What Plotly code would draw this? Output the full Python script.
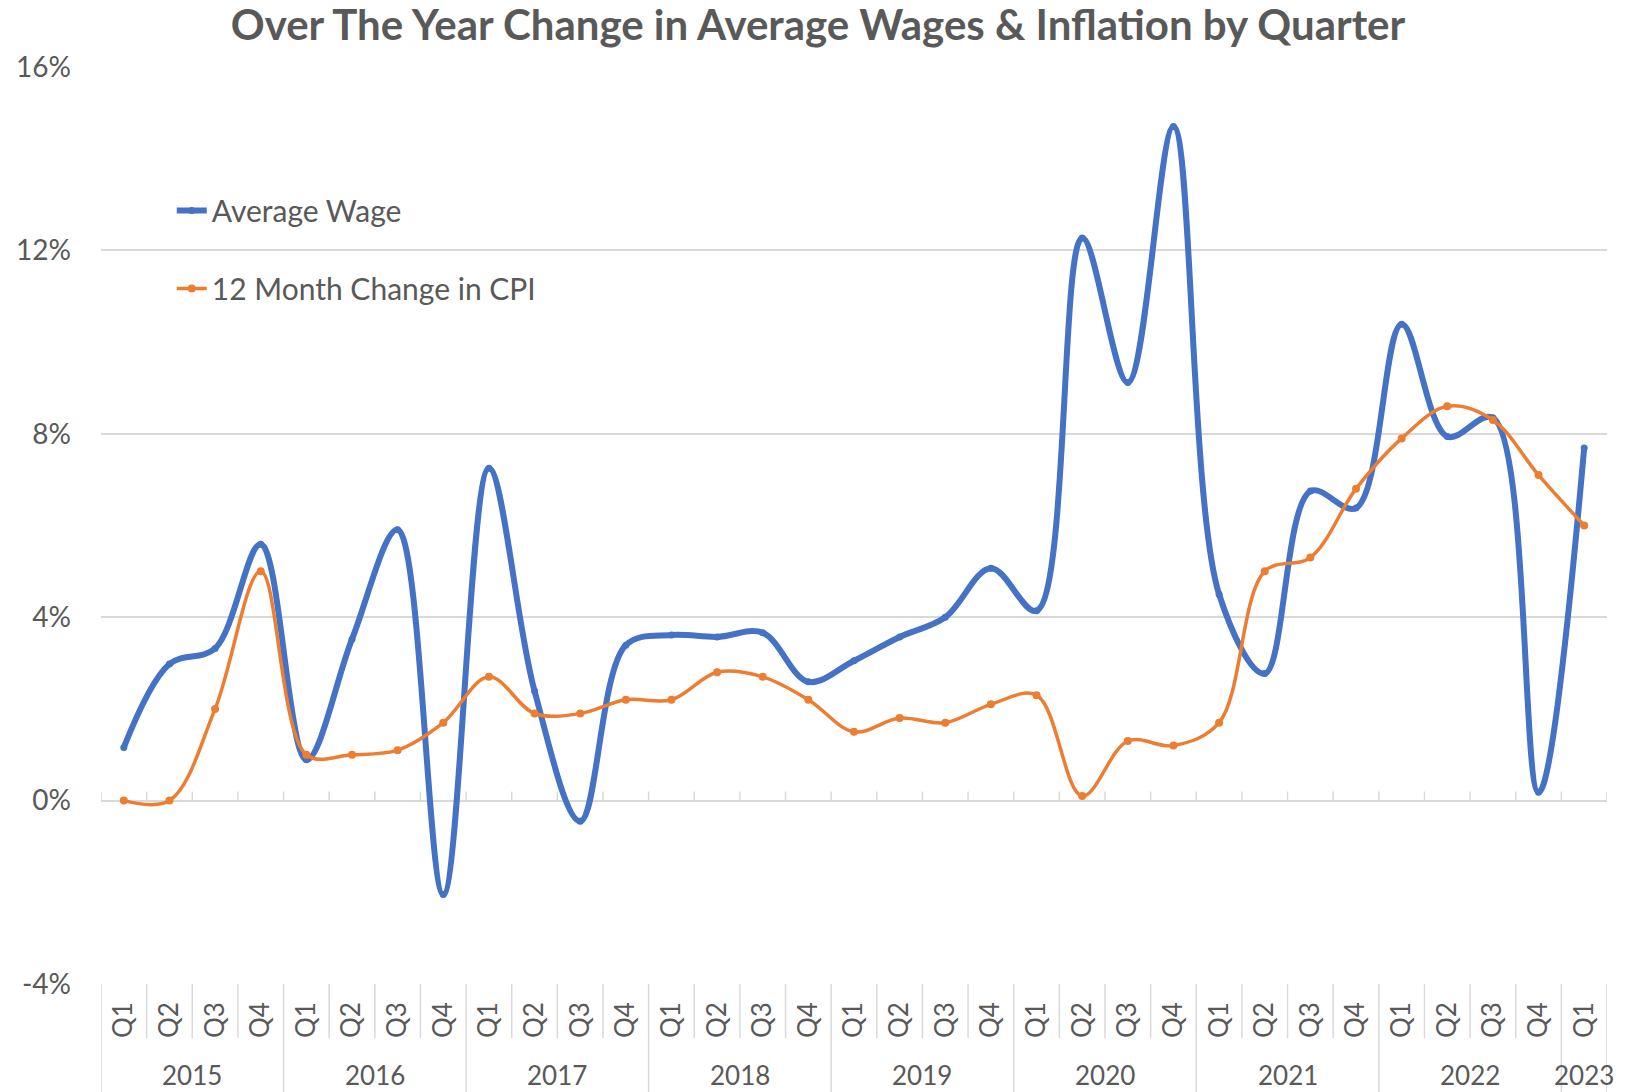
"""
Over-the-year change in average wages vs CPI, quarterly line chart
"""

import plotly.graph_objects as go

# data
years = ["2015", "2016", "2017", "2018", "2019", "2020", "2021", "2022", "2023"]
quarters_per_year = [4, 4, 4, 4, 4, 4, 4, 4, 1]
quarter_labels = ["Q1", "Q2", "Q3", "Q4"]

average_wage = [1.16, 2.98, 3.32, 5.59,
                0.89, 3.52, 5.91, -2.05,
                7.25, 2.39, -0.45, 3.39,
                3.61, 3.57, 3.66, 2.59,
                3.05, 3.57, 4.00, 5.07,
                4.14, 12.27, 9.12, 14.70,
                4.50, 2.77, 6.75, 6.38,
                10.39, 7.94, 8.35, 0.18,
                7.69]

cpi_change = [0.0, 0.0, 2.0, 5.0,
              1.0, 1.0, 1.1, 1.7,
              2.7, 1.9, 1.9, 2.2,
              2.2, 2.8, 2.7, 2.2,
              1.5, 1.8, 1.7, 2.1,
              2.3, 0.1, 1.3, 1.2,
              1.7, 5.0, 5.3, 6.8,
              7.9, 8.6, 8.3, 7.1,
              6.0]

y_ticks = [-4, 0, 4, 8, 12, 16]

# colours / fonts
BLUE = "#4472C4"
ORANGE = "#ED7D31"
TEXT = "#595959"
GRID = "#D9D9D9"
FONT = "Lato"

# flatten categories
ticktext = []
year_centers = []
year_bounds = [-0.5]
pos = 0
for yr, n in zip(years, quarters_per_year):
    ticktext += quarter_labels[:n]
    year_centers.append(pos + (n - 1) / 2)
    pos += n
    year_bounds.append(pos - 0.5)
xs = list(range(len(ticktext)))
all_bounds = [i - 0.5 for i in range(len(ticktext) + 1)]

fig = go.Figure()

fig.add_trace(go.Scatter(
    x=xs, y=average_wage, name="Average Wage",
    mode="lines+markers", line=dict(color=BLUE, width=6, shape="spline", smoothing=1.0),
    marker=dict(size=7, color=BLUE), legendgroup="a"
))
fig.add_trace(go.Scatter(
    x=xs, y=cpi_change, name="12 Month Change in CPI",
    mode="lines+markers", line=dict(color=ORANGE, width=3.5, shape="spline", smoothing=1.0),
    marker=dict(size=8, color=ORANGE), legendgroup="b"
))

shapes = []
# quarter separators under the axis
for b in all_bounds:
    if b in year_bounds:
        continue
    shapes.append(dict(type="line", xref="x", yref="paper", ysizemode="pixel", yanchor=0,
                       x0=b, x1=b, y0=0, y1=-54, line=dict(color=GRID, width=1.5)))
# year dividers down to the bottom
for b in year_bounds:
    shapes.append(dict(type="line", xref="x", yref="paper", ysizemode="pixel", yanchor=0,
                       x0=b, x1=b, y0=0, y1=-110, line=dict(color=GRID, width=1.5)))
# small tick marks on the 0% line
for b in all_bounds:
    shapes.append(dict(type="line", xref="x", yref="y", ysizemode="pixel", yanchor=0,
                       x0=b, x1=b, y0=0, y1=9, line=dict(color=GRID, width=1.5)))

annotations = []
for yr, c in zip(years, year_centers):
    annotations.append(dict(text=yr, x=c, xref="x", y=-0.099, yref="paper",
                            showarrow=False, yanchor="middle",
                            font=dict(family=FONT, size=26, color=TEXT)))

fig.update_layout(
    width=1636, height=1092,
    title=dict(text="<b>Over The Year Change in Average Wages & Inflation by Quarter</b>",
               x=0.5, xanchor="center", y=0.977, yanchor="middle", yref="container",
               font=dict(family=FONT, size=42, color=TEXT)),
    font=dict(family=FONT, size=26, color=TEXT),
    plot_bgcolor="white", paper_bgcolor="white",
    margin=dict(l=101, r=29, t=67, b=108, autoexpand=False),
    showlegend=True,
    legend=dict(x=0.047, y=0.872, xanchor="left", yanchor="top",
                bgcolor="rgba(0,0,0,0)", tracegroupgap=36,
                font=dict(family=FONT, size=30, color=TEXT)),
    shapes=shapes,
    annotations=annotations,
)

fig.update_xaxes(
    range=[-0.5, len(ticktext) - 0.5],
    tickvals=xs, ticktext=ticktext, tickangle=-90,
    showgrid=False, zeroline=False, showline=False, ticks="",
    ticklabelstandoff=12, automargin=False,
    tickfont=dict(family=FONT, size=26, color=TEXT),
)
fig.update_yaxes(
    range=[-4, 16], tickvals=y_ticks, ticktext=[f"{v}%" for v in y_ticks],
    showgrid=True, gridcolor=GRID, gridwidth=1.5,
    zeroline=True, zerolinecolor=GRID, zerolinewidth=2,
    showline=False, ticks="", ticklabelstandoff=29, automargin=False,
    tickfont=dict(family=FONT, size=28, color=TEXT),
)

fig.write_html("out.html", config={"displayModeBar": False},
               post_script="document.body.style.margin='0';")
